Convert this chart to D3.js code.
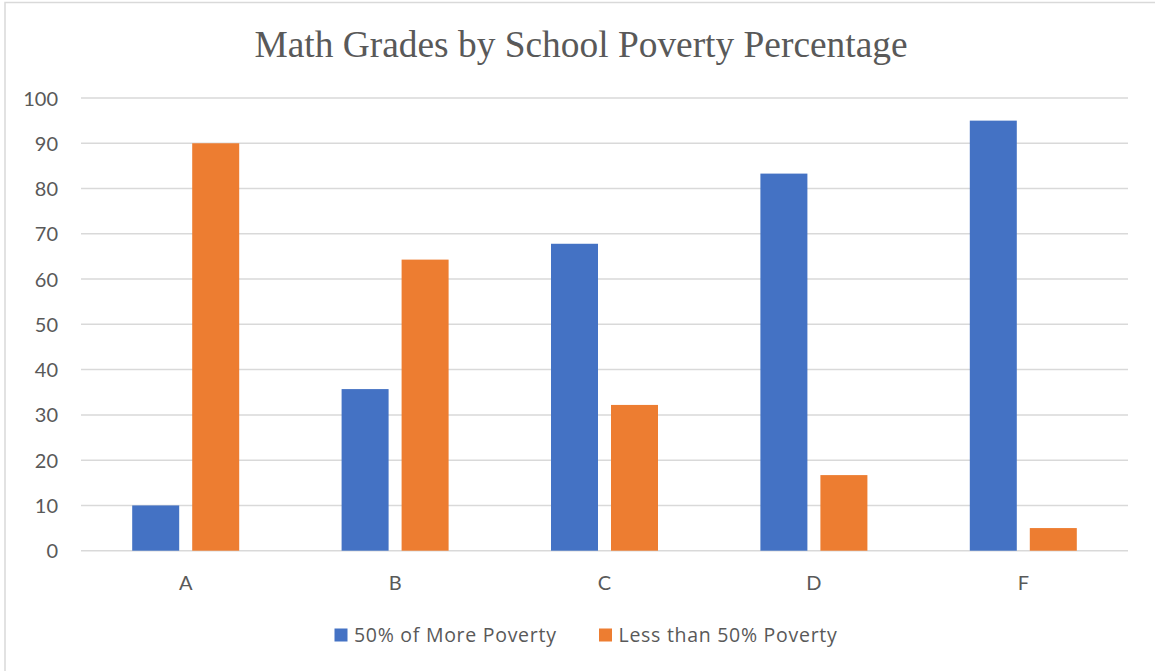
<!DOCTYPE html>
<html><head><meta charset="utf-8">
<script src="https://cdn.jsdelivr.net/npm/d3@7"></script>
<style>html,body{margin:0;padding:0;background:#fff;}</style>
</head><body>
<svg id="chart" width="1155" height="671"></svg>
<script>
const categories = ["A", "B", "C", "D", "F"];
const seriesNames = ["50% of More Poverty", "Less than 50% Poverty"];
const moreValues = [10, 35.7, 67.8, 83.3, 95];
const lessValues = [90, 64.3, 32.2, 16.7, 5];
const yTicks = [0, 10, 20, 30, 40, 50, 60, 70, 80, 90, 100];
const colors = ["#4472C4", "#ED7D31"];
const title = "Math Grades by School Poverty Percentage";

const svg = d3.select("#chart");
const W = 1155, H = 671;
svg.append("rect").attr("width", W).attr("height", H).attr("fill", "#fff");
// border
svg.append("path").attr("d", `M5,${H+5} L5,2.5 L${W+5},2.5`)
  .attr("fill", "none").attr("stroke", "#d9d9d9").attr("stroke-width", 1.5);

const plot = {left: 81, right: 1128, top: 98, bottom: 550.7};
const y = d3.scaleLinear().domain([0, 100]).range([plot.bottom, plot.top]);
const x0 = d3.scaleBand().domain(categories).range([plot.left, plot.right])
  .paddingInner(0.489).paddingOuter(0.2445);
const x1 = d3.scaleBand().domain(seriesNames).range([0, x0.bandwidth()])
  .paddingInner(0.2167).paddingOuter(0);

const font = "Lato, 'Open Sans', sans-serif";
const textColor = "#595959";

// title
svg.append("text").attr("x", 581).attr("y", 57).attr("text-anchor", "middle")
  .attr("font-family", "'Liberation Serif', 'Times New Roman', serif")
  .attr("font-size", 37.4).attr("fill", textColor).text(title);

// gridlines
svg.append("g").selectAll("line").data(yTicks).join("line")
  .attr("x1", plot.left).attr("x2", plot.right)
  .attr("y1", d => y(d)).attr("y2", d => y(d))
  .attr("stroke", "#d9d9d9").attr("stroke-width", 1.5);

// y axis labels
const yAxis = d3.axisLeft(y).tickValues(yTicks).tickSize(0).tickPadding(0);
const gy = svg.append("g").attr("transform", "translate(58,0)").call(yAxis);
gy.select(".domain").remove();
gy.selectAll("text").attr("font-family", font).attr("font-size", 20)
  .attr("fill", textColor).attr("dy", "0.35em");

// x axis labels
const xAxis = d3.axisBottom(x0).tickSize(0).tickPadding(0);
const gx = svg.append("g").attr("transform", `translate(0,${plot.bottom})`).call(xAxis);
gx.select(".domain").remove();
gx.selectAll("text").attr("font-family", font).attr("font-size", 20)
  .attr("fill", textColor).attr("dy", null).attr("y", 39);

// bars
const data = categories.map((c, i) => ({cat: c, vals: [moreValues[i], lessValues[i]]}));
const groups = svg.append("g").selectAll("g").data(data).join("g")
  .attr("transform", d => `translate(${x0(d.cat)},0)`);
groups.selectAll("rect").data(d => d.vals.map((v, j) => ({s: seriesNames[j], v, j})))
  .join("rect")
  .attr("x", d => x1(d.s)).attr("width", x1.bandwidth())
  .attr("y", d => y(d.v)).attr("height", d => y(0) - y(d.v))
  .attr("fill", d => colors[d.j]);

// legend
const legendItems = [{x: 334.5, name: seriesNames[0], c: colors[0]}, {x: 599, name: seriesNames[1], c: colors[1]}];
const lg = svg.append("g").selectAll("g").data(legendItems).join("g")
  .attr("transform", d => `translate(${d.x},628.5)`);
lg.append("rect").attr("width", 13).attr("height", 13).attr("fill", d => d.c);
lg.append("text").attr("x", 19.5).attr("y", 13.5)
  .attr("font-family", "'Open Sans', Lato, sans-serif").attr("font-size", 19.5)
  .attr("letter-spacing", 0.72).attr("fill", textColor)
  .text(d => d.name);
</script>
</body></html>
